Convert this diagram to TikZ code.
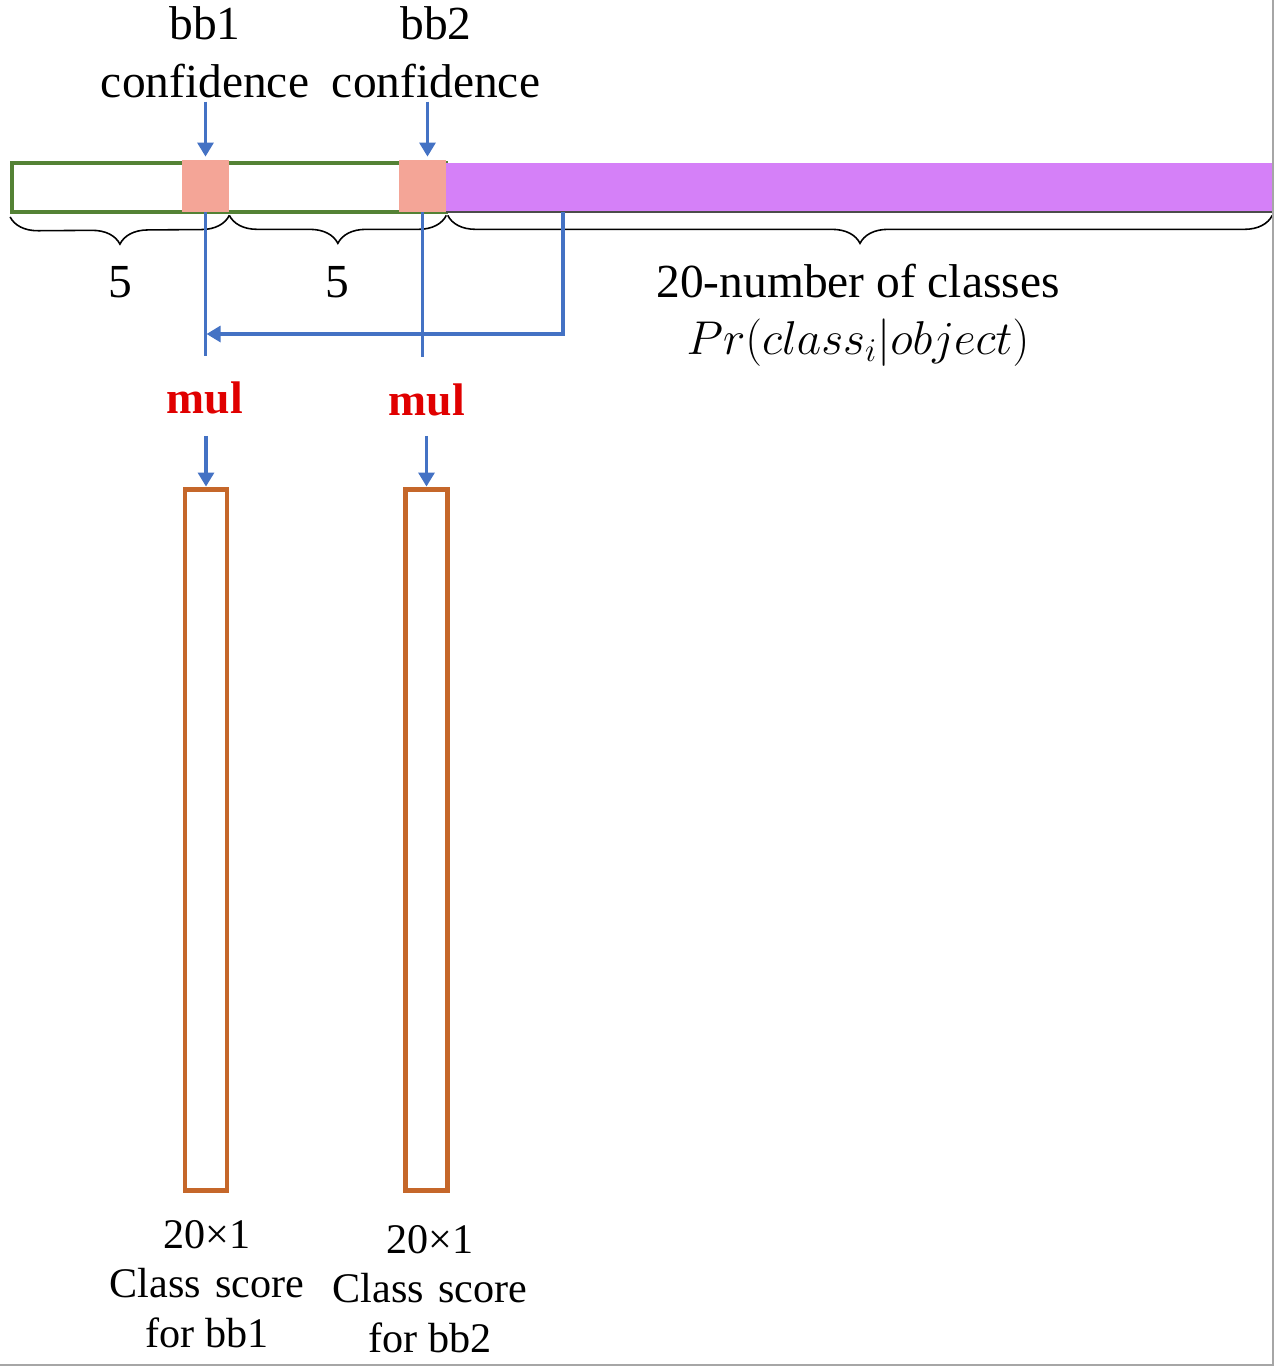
\documentclass[tikz,border=0pt]{standalone}
\usepackage{fix-cm}
\usepackage{fontspec}
\setmainfont{Liberation Serif}
\usetikzlibrary{arrows.meta,decorations.pathreplacing,positioning}
\definecolor{arrowblue}{HTML}{4472C4}
\definecolor{bargreen}{HTML}{548235}
\definecolor{confpink}{HTML}{F4A597}
\definecolor{clspurple}{HTML}{D580F8}
\definecolor{outorange}{HTML}{C5672A}
\definecolor{mulred}{HTML}{E00000}
\begin{document}
\begin{tikzpicture}[x=0.02cm, y=-0.02cm,
    blue line/.style={draw=arrowblue, line width=2.2pt},
    blue arrow/.style={blue line, -{Triangle[length=8pt,width=9pt]}},
    conf box/.style={fill=confpink, minimum width=0.94cm, minimum height=1.04cm, inner sep=0},
    out box/.style={draw=outorange, line width=2.8pt, minimum width=0.84cm, minimum height=14.04cm, inner sep=0},
    big text/.style={font=\fontsize{27}{33}\selectfont, align=center, inner sep=2pt},
    small text/.style={font=\fontsize{24}{28}\selectfont, align=center, inner sep=2pt},
    mul text/.style={font=\fontsize{26}{30}\selectfont\bfseries, text=mulred, inner sep=2pt},
    brace/.style={decorate, decoration={brace, mirror, amplitude=0.56cm}, line width=0.9pt}]

  \useasboundingbox (0,0) rectangle (1274,1366);

  % input vector
  \node[draw=bargreen, line width=2.2pt, minimum width=8.68cm, minimum height=0.98cm, inner sep=0] (bar) at (229,187.5) {};
  \node[fill=clspurple, minimum width=16.52cm, minimum height=0.98cm, inner sep=0] (cls) at (859,187.5) {};
  \draw[gray!60!black, line width=1pt] (cls.south west) -- (cls.south east);
  \node[conf box] (conf1) at (205.5,186) {};
  \node[conf box] (conf2) at (422.5,186) {};

  % braces
  \draw[brace] ([yshift=-0.06cm]bar.south west) -- ([yshift=-0.06cm]conf1.south east);
  \draw[brace] ([yshift=-0.06cm]conf1.south east) -- ([yshift=-0.06cm]conf2.south east);
  \draw[brace] ([yshift=-0.06cm,xshift=0.04cm]cls.south west) -- ([yshift=-0.06cm]cls.south east);
  \node[big text] (n1) at (120,282) {5};
  \node[big text] (n2) at (337,282) {5};
  \node[big text] (ncls) at (858,281) {20-number of classes};
  \node[big text] (pr) at (858,343) {$Pr(class_i|object)$};

  % top labels
  \node[big text] (t1) at (205,52) {bb1\\confidence};
  \node[big text] (t2) at (436,52) {bb2\\confidence};
  \draw[blue arrow, shorten >=0.06cm] (t1.south -| conf1.north) -- (conf1.north);
  \draw[blue arrow, shorten >=0.06cm] ([xshift=0.1cm]t2.south -| conf2.north) -- ([xshift=0.1cm]conf2.north);

  % multiply
  \node[mul text] (m1) at (205,398) {mul};
  \node[mul text] (m2) at (427,400) {mul};
  \draw[blue line, shorten >=0.44cm] (conf1.south) -- (conf1.south |- m1.north);
  \draw[blue line, shorten >=0.46cm] (conf2.south) -- (conf2.south |- m2.north);
  \coordinate (tap) at (563,212);
  \coordinate (join) at (206.5,334);
  \draw[blue arrow] (tap) |- (join);

  % outputs
  \node[out box] (out1) at (206,840) {};
  \node[out box] (out2) at (426.5,840) {};
  \draw[blue arrow, shorten <=0.36cm] (m1.south -| out1.north) -- (out1.north);
  \draw[blue arrow, shorten <=0.32cm] (m2.south -| out2.north) -- (out2.north);
  \node[small text] (lab1) at (207,1284) {20×1\\Class\hspace{0.35em}score\\for bb1};
  \node[small text] (lab2) at (430,1289) {20×1\\Class\hspace{0.35em}score\\for bb2};

  % frame edges
  \draw[gray!70, line width=1pt] (1273,0) -- (1273,1365) -- (0,1365);
\end{tikzpicture}
\end{document}
